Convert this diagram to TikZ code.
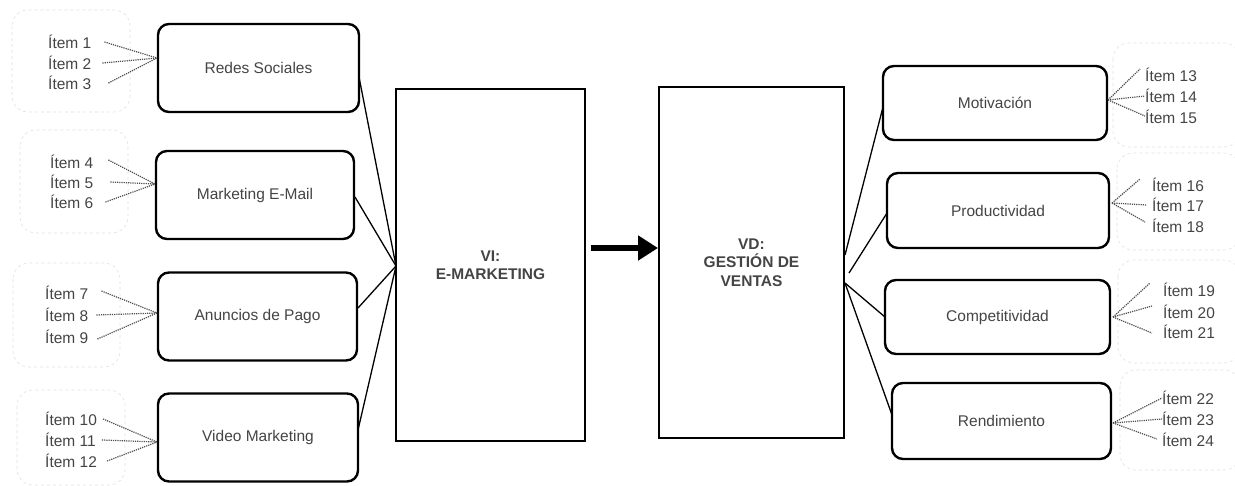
\documentclass[tikz,border=0pt]{standalone}
\usepackage{fontspec}
\setmainfont{Liberation Sans}
\usetikzlibrary{arrows.meta}
\definecolor{txt}{HTML}{444444}
\tikzset{
  dim/.style={draw=black, line width=2.4pt, rounded corners=11pt, minimum width=#1, minimum height=76pt, inner sep=0pt, text=txt, font=\fontsize{15.5}{18}\selectfont},
  dimL/.style={dim=#1, minimum height=88pt},
  var/.style={draw=black, line width=2pt, inner sep=0pt, text=txt, font=\bfseries\fontsize{15.5}{18.5}\selectfont, align=center},
  itm/.style={anchor=west, inner sep=0pt, text=txt, font=\fontsize{15.5}{18}\selectfont},
  grp/.style={draw=black!12, dashed, line width=0.6pt, rounded corners=16pt},
  dot/.style={draw=black!70, densely dotted, line width=1.2pt},
  con/.style={draw=black, line width=1.3pt}
}
\begin{document}
\begin{tikzpicture}[x=1pt,y=-1pt]
\useasboundingbox (0,0) rectangle (1235,485);
% faint group frames
\draw[grp] (12,10) rectangle (130,112);
\draw[grp] (20,130) rectangle (128,233);
\draw[grp] (13,263) rectangle (120,367);
\draw[grp] (17,390) rectangle (125,485);
\draw[grp] (1113,43) rectangle (1240,147);
\draw[grp] (1117,153) rectangle (1240,250);
\draw[grp] (1118,260) rectangle (1240,363);
\draw[grp] (1120,370) rectangle (1240,470);
% left dimension boxes
\node[dimL=201pt] (rs) at (258.5,68) {Redes Sociales};
\node[dimL=198pt] (me) at (255,195) {Marketing E-Mail};
\node[dimL=199pt] (ap) at (257.5,316.5) {Anuncios de Pago};
\node[dimL=200pt] (vm) at (258,437.5) {Video Marketing};
% variable boxes
\node[var, minimum width=189pt, minimum height=352pt] (vi) at (490.5,265) {VI:\\E-MARKETING};
\node[var, minimum width=185pt, minimum height=351pt] (vd) at (751.5,262.5) {VD:\\GESTIÓN DE\\VENTAS};
% right dimension boxes
\node[dim=224pt, minimum height=74pt] (mo) at (995,103) {Motivación};
\node[dim=222pt, minimum height=75pt] (pr) at (998,210.5) {Productividad};
\node[dim=225pt, minimum height=74pt] (co) at (997.5,317) {Competitividad};
\node[dim=219pt, minimum height=76pt] (re) at (1001.5,421) {Rendimiento};
% main arrow
\draw[line width=6pt, -{Triangle[length=20pt,width=24pt]}, shorten <=5pt] (vi.east |- 0,248) coordinate (ars) -- (vd.west |- 0,248) coordinate (are);
% connectors to VI
\coordinate (vin) at (396,266);
\coordinate (rsr) at (359,77);
\coordinate (mer) at (355,197);
\coordinate (apr) at (358,308);
\coordinate (vmr) at (358,430);
\draw[con] (rsr) -- (vin);
\draw[con] (mer) -- (vin);
\draw[con] (apr) -- (vin);
\draw[con] (vmr) -- (vin);
% connectors from VD
\coordinate (vo1) at (845,255);
\coordinate (vo2) at (849,273);
\coordinate (vo3) at (845,283);
\coordinate (mol) at (883,107);
\coordinate (prl) at (887,213);
\coordinate (col) at (885,317);
\coordinate (rel) at (892,415);
\draw[con] (vo1) -- (mol);
\draw[con] (vo2) -- (prl);
\draw[con] (vo3) -- (col);
\draw[con] (vo3) -- (rel);
% left items
\node[itm] (i1) at (48,42) {Ítem 1};
\node[itm] (i2) at (48,63) {Ítem 2};
\node[itm] (i3) at (48,83) {Ítem 3};
\node[itm] (i4) at (50,162) {Ítem 4};
\node[itm] (i5) at (50,182) {Ítem 5};
\node[itm] (i6) at (50,202) {Ítem 6};
\node[itm] (i7) at (45,293) {Ítem 7};
\node[itm] (i8) at (45,315) {Ítem 8};
\node[itm] (i9) at (45,337) {Ítem 9};
\node[itm] (i10) at (45,419) {Ítem 10};
\node[itm] (i11) at (45,440) {Ítem 11};
\node[itm] (i12) at (45,461) {Ítem 12};
\coordinate (rsl) at (157,58);
\coordinate (mel) at (155,184);
\coordinate (apl) at (157,313);
\coordinate (vml) at (157,442);
\draw[dot] ([xshift=13pt]i1.east) -- (rsl);
\draw[dot] ([xshift=11pt]i2.east) -- (rsl);
\draw[dot] ([xshift=17pt]i3.east) -- (rsl);
\draw[dot] ([xshift=15pt,yshift=2pt]i4.east) -- (mel);
\draw[dot] ([xshift=17pt]i5.east) -- (mel);
\draw[dot] ([xshift=12pt]i6.east) -- (mel);
\draw[dot] ([xshift=13pt,yshift=2pt]i7.east) -- (apl);
\draw[dot] ([xshift=8pt]i8.east) -- (apl);
\draw[dot] ([xshift=9pt,yshift=-2pt]i9.east) -- (apl);
\draw[dot] ([xshift=6pt]i10.east) -- (vml);
\draw[dot] ([xshift=6pt]i11.east) -- (vml);
\draw[dot] ([xshift=10pt]i12.east) -- (vml);
% right items
\node[itm] (i13) at (1145,75) {Ítem 13};
\node[itm] (i14) at (1145,96) {Ítem 14};
\node[itm] (i15) at (1145,117) {Ítem 15};
\node[itm] (i16) at (1152,185) {Ítem 16};
\node[itm] (i17) at (1152,205) {Ítem 17};
\node[itm] (i18) at (1152,226) {Ítem 18};
\node[itm] (i19) at (1163,290) {Ítem 19};
\node[itm] (i20) at (1163,312) {Ítem 20};
\node[itm] (i21) at (1163,332) {Ítem 21};
\node[itm] (i22) at (1162,398) {Ítem 22};
\node[itm] (i23) at (1162,419) {Ítem 23};
\node[itm] (i24) at (1162,440) {Ítem 24};
\coordinate (mor) at (1108,100);
\coordinate (prr) at (1112,203);
\coordinate (cor) at (1113,317);
\coordinate (rer) at (1113,423);
\draw[dot] (mor) -- ([xshift=-5pt,yshift=6pt]i13.west);
\draw[dot] (mor) -- (i14.west);
\draw[dot] (mor) -- ([yshift=1pt]i15.west);
\draw[dot] (prr) -- ([xshift=-12pt,yshift=6pt]i16.west);
\draw[dot] (prr) -- ([xshift=-5pt]i17.west);
\draw[dot] (prr) -- ([xshift=-7pt,yshift=4pt]i18.west);
\draw[dot] (cor) -- ([xshift=-13pt,yshift=7pt]i19.west);
\draw[dot] (cor) -- ([xshift=-11pt,yshift=6pt]i20.west);
\draw[dot] (cor) -- ([xshift=-11pt,yshift=-1pt]i21.west);
\draw[dot] (rer) -- (i22.west);
\draw[dot] (rer) -- (i23.west);
\draw[dot] (rer) -- ([xshift=-5pt,yshift=1pt]i24.west);
\end{tikzpicture}
\end{document}
